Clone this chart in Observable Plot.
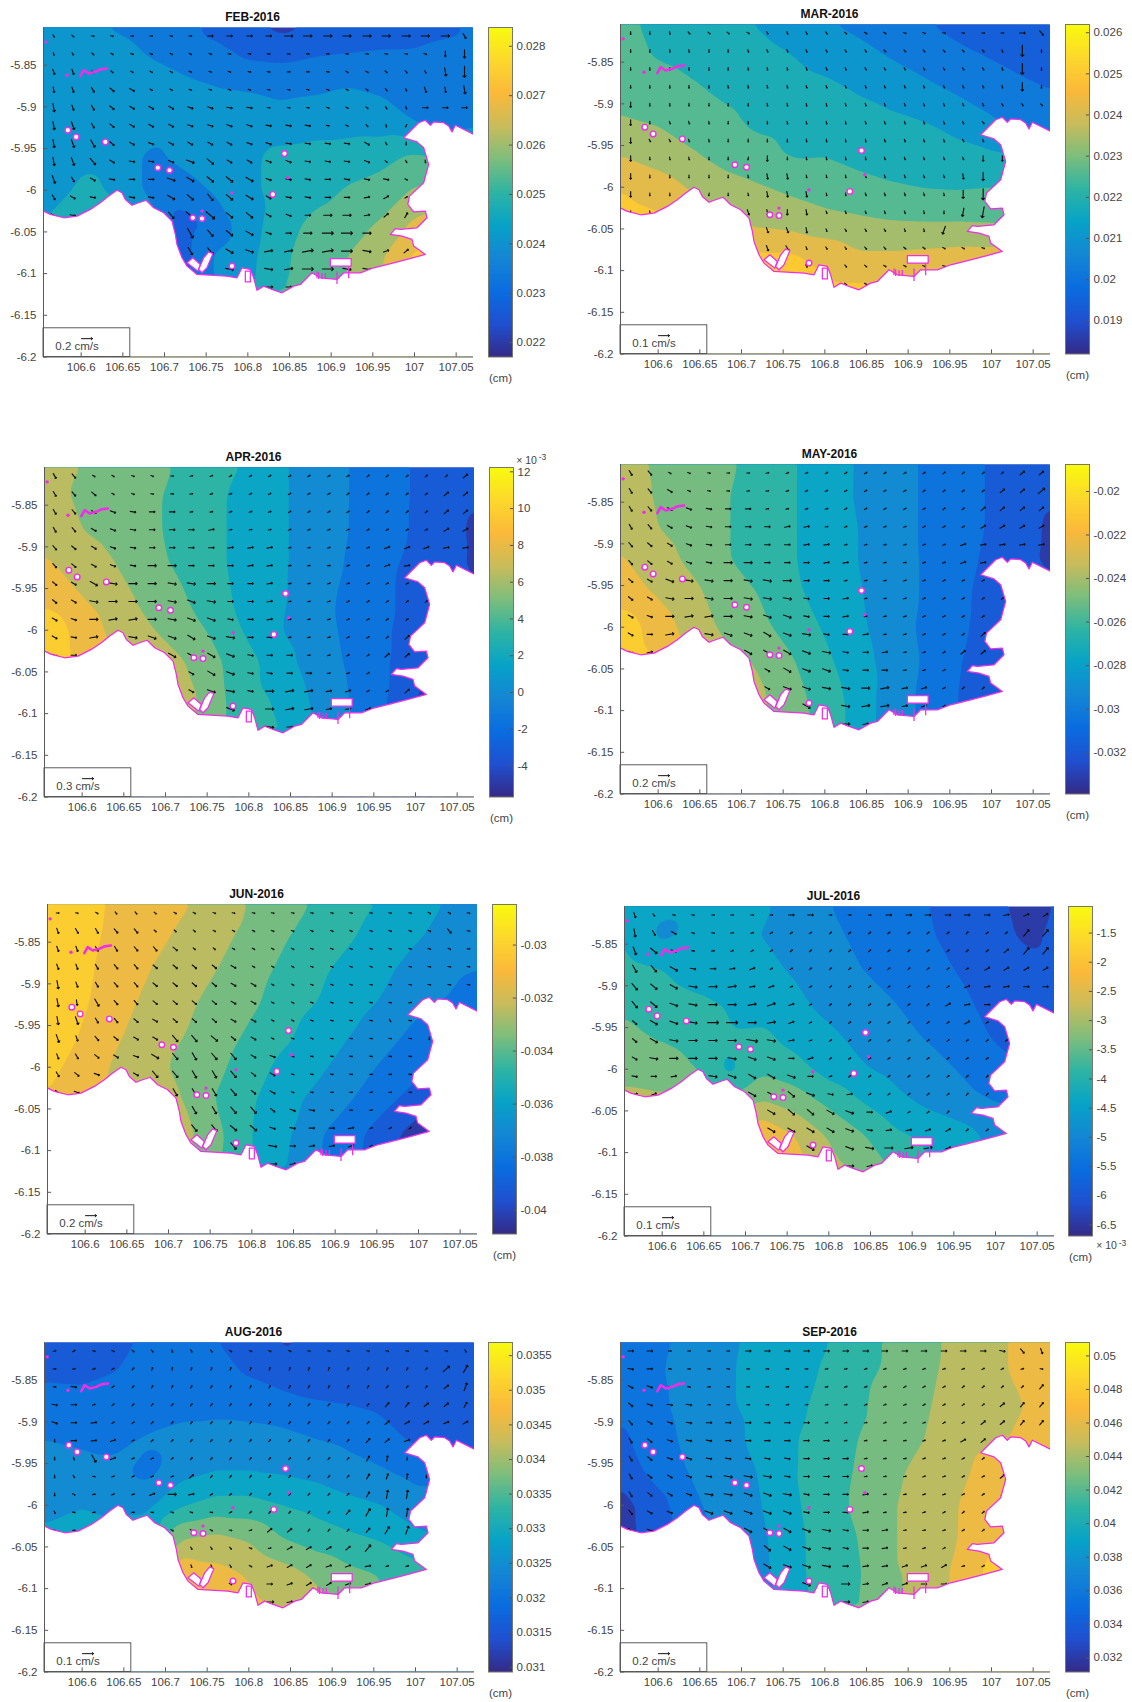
<!DOCTYPE html>
<html><head><meta charset="utf-8">
<script src="https://cdn.jsdelivr.net/npm/d3@7"></script>
<script src="https://cdn.jsdelivr.net/npm/@observablehq/plot@0.6"></script>
<style>html,body{margin:0;padding:0;background:#fff;overflow:hidden}#page{position:relative;width:1132px;height:1702px}</style>
</head><body><div id="page"></div>
<script>
const xTicks=[106.6,106.65,106.7,106.75,106.8,106.85,106.9,106.95,107,107.05];
const yTicks=[-5.85,-5.9,-5.95,-6,-6.05,-6.1,-6.15,-6.2];
const gridLon=[106.55,106.6,106.64,106.68,106.72,106.76,106.8,106.84,106.88,106.92,106.96,107,107.04,107.08];
const gridLat=[-5.8,-5.84,-5.88,-5.92,-5.96,-6,-6.04,-6.08,-6.13];
const arrowLon=[106.567,106.59,106.614,106.637,106.661,106.684,106.708,106.731,106.755,106.778,106.802,106.825,106.849,106.872,106.896,106.919,106.943,106.966,106.99,107.013,107.037,107.06];
const arrowLat=[-5.815,-5.8365,-5.858,-5.8795,-5.901,-5.9225,-5.944,-5.9655,-5.987,-6.0085,-6.03,-6.0515,-6.073,-6.0945,-6.116];
const waterSpans=[[0,0,21],[1,0,21],[2,0,21],[3,0,21],[4,0,21],[5,0,18],[6,0,18],[7,0,19],[8,0,19],[9,0,2],[9,4,18],[10,0,1],[10,6,18],[11,7,16],[12,7,18],[13,9,9],[13,11,16],[14,11,12]];
const coastLon=[106.555,106.563,106.579,106.595,106.611,106.623,106.633,106.643,106.649,106.653,106.661,106.669,106.678,106.687,106.699,106.709,106.713,106.715,106.721,106.727,106.739,106.759,106.775,106.787,106.793,106.803,106.807,106.811,106.819,106.829,106.841,106.855,106.863,106.877,106.887,106.907,106.915,106.935,106.951,106.975,106.991,107.013,106.999,106.997,106.985,106.971,106.977,106.983,107.003,107.015,107.013,106.999,106.992,106.994,107.011,107.017,107.011,107.003,106.987,107.005,107.013,107.019,107.023,107.035,107.041,107.045,107.049,107.071];
const coastLat=[-6.025,-6.029,-6.033,-6.031,-6.023,-6.015,-6.007,-6,-6.003,-6.011,-6.018,-6.015,-6.012,-6.021,-6.027,-6.037,-6.053,-6.065,-6.081,-6.091,-6.101,-6.102,-6.103,-6.105,-6.093,-6.095,-6.105,-6.12,-6.115,-6.119,-6.123,-6.115,-6.113,-6.099,-6.105,-6.107,-6.099,-6.099,-6.093,-6.087,-6.083,-6.077,-6.067,-6.059,-6.055,-6.053,-6.046,-6.047,-6.045,-6.033,-6.025,-6.026,-6.017,-6.007,-5.991,-5.969,-5.949,-5.942,-5.937,-5.919,-5.916,-5.922,-5.918,-5.919,-5.923,-5.93,-5.922,-5.933];
const featureId=[1,1,1,1,1,2,2,2,2,2,2,2,3,3,3,3,3,4,4,4,4,4];
const featureLon=[106.727,106.734,106.743,106.74,106.727,106.741,106.747,106.753,106.758,106.751,106.745,106.741,106.899,106.924,106.924,106.899,106.899,106.797,106.803,106.803,106.797,106.797];
const featureLat=[-6.087,-6.081,-6.089,-6.097,-6.087,-6.095,-6.081,-6.074,-6.076,-6.093,-6.099,-6.095,-6.082,-6.082,-6.091,-6.091,-6.082,-6.097,-6.097,-6.11,-6.11,-6.097];
const jettyLon=[106.883,106.885,106.889,106.893,106.907,106.921];
const jettyTop=[-6.098,-6.099,-6.1,-6.1,-6.098,-6.092];
const jettyBottom=[-6.106,-6.107,-6.107,-6.107,-6.113,-6.106];
const islandLon=[106.584,106.594,106.629,106.692,106.706,106.844,106.734,106.745,106.781,106.83];
const islandLat=[-5.928,-5.936,-5.942,-5.973,-5.976,-5.956,-6.033,-6.034,-6.091,-6.005];
const rockLon=[106.781,106.848,106.745,106.558,106.583];
const rockLat=[-6.003,-5.985,-6.025,-5.822,-5.862];
const reefLon=[106.599,106.603,106.609,106.617,106.623,106.631];
const reefLat=[-5.863,-5.856,-5.86,-5.858,-5.855,-5.854];
const parula=["#352a87","#2050d0","#0a6de0","#1486d4","#07a3c8","#2eb4a4","#7dbd7d","#c9bc5c","#fbb93a","#fcd82c","#f9fb0e"];

// Contour band position (0 = bottom of the colour bar's band ladder).
const febBands=[3.3,3.2,2.9,2.7,2.5,1.6,1,0.6,1,1.2,1.3,1.4,1.6,2.5,
3.5,3.4,3.3,3,2.7,2.4,1.9,1.8,2,2.1,2.2,2.2,2.5,2.7,
3.7,3.6,3.5,3.4,3.3,3.1,3,2.8,2.9,3.1,2.9,2.7,2.6,2.7,
3.7,3.7,3.6,3.6,3.3,3.4,3.4,3.4,3.6,3.6,3.5,3,2.4,2.8,
3.7,3.8,3.8,2.8,3.2,3.6,3.8,4.3,4.4,4.5,4.7,5.2,5,5,
3.3,4.2,3.9,2.8,2.6,3.1,3.8,4.3,4.6,5.1,5.4,6.1,6.5,6.5,
4,4.6,4.3,4,1.5,2.3,3.6,4.5,5.3,5.6,6.1,7.2,7.5,7.5,
4,4.5,4,3,1.5,3.1,3.7,4.8,5.5,6,6.9,8.2,8.5,8.5,
4,4,4,3,3,3,3.8,5,5.5,6,7,8,8,8];
const marBands=[5.3,4.7,4.4,4.2,3.9,3.5,3,2.7,2.4,2,1.6,1.4,1.2,1.1,
5.4,4.9,4.7,4.5,4.3,4,3.6,3.3,2.9,2.5,2.2,1.9,1.5,1.3,
5.8,5.4,5.1,4.8,4.6,4.4,4.2,3.9,3.5,3.2,2.8,2.5,2.2,1.9,
6.1,5.9,5.5,5.2,4.8,4.7,4.5,4.3,4.2,4,3.6,3.1,2.5,2.3,
7,6.5,6.1,5.6,5.3,4.9,4.95,4.7,4.5,4.4,4.3,4.1,3.9,3.8,
8,7.5,6.9,6.4,6.1,5.8,5.5,5.3,5.1,4.95,4.9,5,4.8,4.7,
8.5,8.2,7.5,7,6.7,6.5,6.3,6.15,6,5.95,5.95,5.9,5.8,5.7,
8.5,8.2,8,8,8.1,8.1,7.6,7.1,7.1,7.2,7.3,7.3,7.3,7.3,
8.5,8.5,8.5,8.5,8.5,8.5,8.4,8.4,8.3,8,8,8,8,8];
const aprBands=[7.5,7,6.6,6.2,5.9,5.4,4.9,4.1,3.6,3,2.5,1.9,1.5,1.2,
7.5,6.8,6.5,6.2,5.7,5.2,4.6,4.1,3.6,3,2.5,1.9,1.5,1.1,
7.8,7,6.6,6.2,5.7,5.2,4.6,4.1,3.6,3,2.4,1.9,1.4,0.6,
8.2,7.6,7,6.3,5.8,5.2,4.6,4.1,3.6,2.9,2.2,1.8,1.3,0.7,
8.7,8,7.4,6.7,6.1,5.3,4.7,4.1,3.5,2.7,2.2,1.7,1.3,1,
9.9,8.6,7.7,7.1,6.5,5.8,4.8,4,3.4,2.8,2.2,1.5,1,1,
9.9,8.7,8,7.8,7.1,6.2,5.3,4.4,3.5,2.9,2.2,1.3,0.7,0.7,
9,8.5,8,8,7.6,6.3,5.3,4.8,3.8,3,2.2,1,0.6,0.6,
9,8.5,8,8,7,6,5.5,5,4,3,2,1,1,1];
const mayBands=[7.6,6.8,6.5,6.2,5.7,5.1,4.6,3.9,3.4,2.9,2.4,1.9,1.5,1.2,
7.5,6.9,6.5,6.1,5.5,5.1,4.5,3.9,3.4,2.9,2.4,1.9,1.4,1.1,
7.7,7,6.6,6.1,5.5,5.1,4.5,4,3.4,2.9,2.4,1.9,1.3,0.7,
8.2,7.4,6.8,6.1,5.6,5.1,4.5,4,3.5,2.9,2.3,1.8,1.2,0.7,
8.5,7.9,7.3,6.5,6,5.2,4.7,4.1,3.5,2.9,2.2,1.7,1.3,1.2,
9.8,8.5,7.6,6.8,6.3,5.6,4.9,4.2,3.5,2.8,2.2,1.6,1.2,1,
9.8,8.9,8,7.3,6.9,6.1,5.2,4.4,3.6,2.9,2.1,1.3,0.8,0.8,
9,8.5,8.3,8,7.2,6.4,5.5,4.6,3.5,2.8,2,1.2,0.8,0.8,
9,8.5,8,8,7,6.5,5.7,4.5,3.5,2.8,2,1.2,1,1];
const junBands=[9.7,9.5,8.7,8.4,8.1,7.7,6.9,6.4,5.9,5.4,4.9,4.4,3.9,3.6,
9.7,9.4,8.6,8.3,7.8,7.3,6.7,6.1,5.6,5.1,4.5,4.1,3.6,3.4,
9.7,9.2,8.5,8,7.5,7,6.4,5.8,5.2,4.7,4.2,3.6,3.3,3,
9.7,9.1,8.4,7.7,7.2,6.7,6.2,5.5,5,4.4,3.9,3.3,2.9,2.2,
9.6,8.9,8.1,7.5,7,6.5,5.8,5.2,4.5,4,3.4,2.7,2.3,2,
9.4,8.5,7.8,7.3,6.7,6.2,5.4,4.7,4.2,3.5,2.8,2.3,2,2,
9,8.3,7.7,7.2,7,5.9,5.1,4.3,3.7,3,2.3,1.4,1,1,
8.8,8,7.5,7.2,7.3,6.2,5,4.2,3.1,2.4,1.3,0.6,0.5,0.5,
8.5,8,7.5,7,7,6,5,4,3,2.3,1.3,1,1,1];
const julBands=[4.8,4.2,4.2,4.1,4.1,3.8,3,2.6,2.4,2,1.4,1.2,0.6,1.2,
5.1,3.8,4.2,4,4,3.7,3.3,2.7,2.5,2.1,1.6,1.3,0.8,1.3,
5.4,5,4.5,4.3,4.2,3.9,3.5,3,2.6,2.3,1.9,1.4,1.3,1.3,
5.9,5.5,5.2,4.9,4.5,4.2,3.7,3.4,3,2.6,2.2,1.6,1.2,1.2,
6.2,5.9,5.6,5.1,5.2,4.6,4.2,3.7,3.3,2.9,2.4,1.9,1.6,1.5,
6.6,6.5,6,4.7,5.8,5.4,4.6,4.1,3.7,3.4,2.9,2.3,2,2,
7.4,7.2,7.5,6.3,7.1,6.6,5.8,5,4.3,3.8,3.4,3,3,3,
7.5,7.5,7.5,7,9,8,6.9,6.1,5.2,4.8,4.4,3.7,3.3,3.3,
7.5,7.5,7.5,7.5,9,8.5,7.5,7,6,5,4.5,3.7,3.3,3.3];
const augBands=[1.5,1.3,1.6,2.2,2.2,2,1.5,0.8,1.2,1.2,1.2,1.2,1.2,1.2,
1.7,1.6,2,2.3,2.4,2.3,1.9,1.5,1.5,1.5,1.4,1.4,1.3,1.3,
2.7,2.6,2.4,2.5,2.7,2.7,2.6,2.4,2.1,2,1.8,1.5,1.4,1.4,
3,2.9,2.8,3.1,3.3,3.4,3.4,3.3,3,2.8,2.4,1.8,1.6,1.6,
3.2,3.2,3.2,2.7,3.7,4,4,3.9,3.7,3.3,3.1,2.7,2.7,2.7,
3.2,3.9,3.8,3.8,4.9,5.4,5.4,5,4.7,4.3,4,3.4,3,3,
4.5,5,4.3,4.5,7,7.3,6.9,6,5.5,5.2,4.9,4.3,4,4,
5,5,5,6,8.9,8.3,7.9,7.4,6.8,6.2,5.9,5.4,5,5,
5,5,5,6,9,8.5,8.3,8,7.5,7,6,5.5,5,5];
const sepBands=[2.3,2.7,3.4,3.8,4.2,4.5,4.9,5.5,6.2,6.7,7.3,7.8,8.2,8.5,
2.4,2.9,3.4,3.9,4.2,4.6,5.1,5.7,6.2,6.8,7.3,7.8,8.2,8.4,
2.3,2.8,3.4,3.9,4.2,4.7,5.3,5.8,6.5,6.9,7.4,7.8,8,8.3,
1.7,2.6,3.3,3.7,4.2,4.9,5.4,6,6.5,7,7.5,7.9,8.1,8.3,
1.2,2.4,3.1,3.6,4,4.9,5.5,6.1,6.8,7.3,7.7,8.5,8.2,8.2,
0.5,1.6,2.8,3.4,3.9,4.8,5.5,6.2,6.9,7.5,8,8.5,8.3,8.3,
0.5,1.5,2.5,3.2,3.7,4.7,5.4,6,6.9,7.5,8,8.9,8.5,8.5,
0.5,1.5,2.5,3,3.6,4.7,5.4,5.9,6.9,7.2,8.3,9.3,9,9,
1,2,2.5,3,3.6,4.5,5.3,6,6.9,7.2,8,9,9,9];

// Arrows, one per water node in waterSpans order: hundreds = speed class, rest = heading in tens of degrees.
const febArrows=[115,113,110,110,109,109,110,109,209,209,209,209,309,309,309,309,309,309,309,309,309,215,
116,115,113,112,111,111,112,112,111,110,110,109,109,109,109,109,110,110,110,111,218,318,
216,216,114,113,112,112,112,111,111,111,110,110,109,109,110,112,112,113,114,115,317,418,
217,216,215,213,212,112,112,111,111,111,111,110,110,110,111,112,113,114,116,216,217,317,
317,216,215,213,212,212,212,211,211,210,210,110,110,110,111,112,113,115,116,209,209,209,
317,316,215,213,212,212,212,211,211,211,211,210,210,210,110,112,114,117,121,
317,316,315,213,212,211,212,212,212,212,211,211,210,210,210,210,212,115,118,
317,316,314,212,210,210,211,311,313,212,212,211,211,210,210,210,211,113,115,117,
316,215,212,210,209,209,311,312,313,313,312,211,210,210,209,210,210,210,112,117,
215,212,210,210,210,312,313,314,313,312,212,210,210,209,209,208,206,106,
212,210,314,413,413,313,313,212,211,209,309,309,208,205,203,
415,314,313,312,211,209,309,409,409,309,
315,314,312,311,308,308,408,408,409,310,207,205,
310,310,308,409,409,310,310,
309,209];
const marArrows=[118,118,117,114,113,113,112,115,116,115,114,113,112,112,111,111,110,110,109,109,209,214,
118,118,118,117,118,118,116,116,116,116,115,115,115,114,114,114,114,114,114,116,418,118,
118,118,118,118,118,118,117,117,117,116,116,116,115,115,115,115,115,115,115,116,418,118,
118,118,118,118,118,117,117,117,117,116,116,116,116,116,116,116,116,116,116,117,318,118,
218,118,118,118,118,118,118,117,117,117,117,116,116,116,116,116,116,116,116,115,114,113,
218,118,116,116,117,118,118,118,117,117,117,117,116,116,116,116,116,116,114,
218,115,115,116,117,118,118,118,118,117,117,117,117,116,116,116,116,115,116,
218,118,117,117,118,118,119,218,118,117,117,117,117,116,116,116,116,116,218,218,
218,118,118,118,118,118,117,217,217,117,117,117,116,116,116,116,116,217,318,218,
218,118,118,119,118,117,217,217,217,117,117,116,116,116,116,117,318,418,
118,117,216,217,218,217,116,116,116,116,116,117,118,319,419,
216,216,217,116,115,115,115,116,117,320,
216,215,116,115,115,114,114,113,113,112,112,111,
115,114,113,112,112,111,111,
113,112];
const aprArrows=[215,214,112,112,111,111,109,108,107,106,106,106,106,106,106,106,105,105,105,105,105,205,
215,214,213,112,111,110,109,108,107,107,106,106,106,106,106,105,105,105,105,105,205,205,
215,214,212,211,210,209,209,108,108,107,107,107,106,106,106,106,105,105,105,105,205,205,
215,214,212,211,210,209,209,209,208,108,108,108,107,107,107,107,106,106,106,106,206,206,
214,213,212,211,210,209,209,209,209,208,208,208,108,108,107,107,107,207,207,207,208,208,
214,213,212,211,210,309,309,209,209,209,208,208,108,108,108,107,107,207,208,
213,212,312,310,309,309,310,310,309,209,209,208,108,108,107,107,106,106,106,
213,212,310,309,309,309,310,311,310,209,209,208,108,108,107,106,106,105,105,105,
212,211,309,308,308,309,310,311,311,210,209,208,108,108,107,106,106,105,105,105,
212,210,308,310,311,311,312,311,310,209,209,108,108,107,106,106,105,205,
211,209,312,312,312,311,210,209,209,108,107,106,105,205,205,
212,312,311,210,210,209,209,108,107,106,
212,311,310,210,309,308,308,208,207,106,106,205,
311,309,308,308,208,208,207,
310,209];
const mayArrows=[215,214,112,111,110,109,109,108,107,107,106,106,106,106,106,106,105,105,105,105,205,205,
215,214,212,111,110,109,108,108,107,106,106,106,106,106,106,105,105,105,105,205,205,305,
215,214,212,211,210,209,209,108,108,107,107,106,106,106,106,106,105,105,205,205,205,205,
215,214,212,211,210,209,209,209,208,208,108,107,107,107,107,106,106,106,206,206,206,206,
214,213,212,211,210,209,209,209,209,208,208,108,108,108,107,107,107,207,208,208,208,208,
214,213,212,211,210,309,309,209,209,209,208,208,108,108,108,107,107,207,208,
213,212,311,310,310,309,310,310,309,209,209,108,108,108,107,107,106,106,106,
213,212,310,309,310,309,310,310,310,210,209,208,108,108,107,106,106,106,105,105,
212,211,309,308,308,309,310,311,311,210,209,208,108,108,107,106,106,105,105,105,
212,209,308,310,311,311,312,311,310,210,209,208,108,107,106,106,105,205,
211,208,312,312,312,311,310,210,209,208,108,107,106,205,205,
212,312,311,311,210,209,209,108,107,106,
212,311,311,310,310,309,308,208,207,106,105,105,
312,310,308,308,208,207,106,
309,208];
const junArrows=[109,110,112,114,114,113,112,112,111,110,110,110,110,110,110,110,110,110,110,112,112,110,
216,215,215,214,214,113,113,113,112,112,112,111,111,111,111,111,111,111,111,111,214,110,
216,216,215,215,214,214,213,113,113,112,112,112,112,111,111,111,111,111,111,111,112,109,
216,216,215,214,214,213,213,213,213,212,112,112,112,111,111,111,111,110,110,110,110,110,
317,216,215,214,214,213,213,213,213,212,212,112,112,111,111,111,110,110,110,110,110,110,
317,217,315,214,214,213,213,213,213,212,212,112,112,111,111,110,110,110,108,
317,316,215,214,213,212,213,213,213,212,212,112,112,111,110,110,110,115,110,
316,216,214,213,212,212,314,314,313,213,212,112,111,111,110,110,110,110,110,118,
216,215,213,212,211,312,314,315,314,314,212,211,111,110,110,110,110,110,110,118,
215,213,211,212,314,314,315,315,314,213,212,111,110,110,109,109,109,110,
213,211,315,315,315,314,213,212,111,110,109,109,108,109,110,
315,315,314,314,213,211,210,110,109,108,
314,314,313,313,211,210,209,209,208,107,106,105,
314,310,209,208,208,207,107,
309,208];
const julArrows=[216,114,110,110,109,109,109,109,209,209,109,109,109,209,209,209,209,209,209,208,207,206,
317,215,212,111,110,108,107,106,105,106,105,105,105,105,105,105,105,104,105,105,304,304,
316,313,211,110,108,107,106,106,105,105,105,105,105,105,105,105,105,105,105,205,304,304,
315,314,312,210,209,208,207,106,106,105,105,105,105,105,105,105,105,106,206,206,206,206,
314,313,312,310,309,308,208,207,107,106,105,105,105,105,105,105,106,207,208,208,209,209,
314,313,311,310,309,309,308,307,207,106,105,105,105,105,105,105,206,208,209,
213,312,311,310,409,409,309,308,207,106,105,105,105,105,105,105,105,206,106,
213,312,310,309,309,309,410,310,208,107,105,105,105,105,105,105,105,105,105,105,
212,310,309,309,309,310,311,311,209,207,105,105,105,105,105,105,105,105,105,104,
210,209,208,310,311,312,312,311,209,107,105,105,105,105,105,105,105,104,
208,207,312,312,313,311,210,208,106,105,105,105,105,104,104,
312,313,313,312,311,209,207,106,105,104,
312,312,312,312,311,210,208,208,207,206,105,105,
312,311,310,309,308,308,207,
309,208];
const augArrows=[107,106,110,111,113,114,116,115,114,112,111,111,111,110,110,110,110,110,110,110,110,115,
109,108,107,106,104,102,101,102,102,102,102,102,102,102,102,103,103,103,103,104,305,303,
110,210,107,105,104,103,103,103,103,103,103,103,103,103,103,103,103,104,104,104,205,302,
210,209,107,105,104,104,104,104,104,104,104,104,104,104,104,104,104,204,204,205,205,203,
211,209,208,106,105,104,104,104,104,104,104,104,104,104,104,104,104,205,206,206,207,206,
118,209,208,207,106,105,104,104,104,104,104,104,104,104,104,104,204,205,207,
118,116,315,207,107,106,105,104,104,104,104,104,104,104,104,104,203,201,118,
118,115,110,107,106,106,107,205,104,104,104,104,104,104,104,104,203,202,201,118,
118,112,108,106,107,207,309,208,105,105,104,104,104,104,104,104,203,301,301,218,
115,110,108,109,110,111,111,110,106,105,104,104,104,104,204,303,301,301,
112,109,112,113,112,110,107,205,205,104,104,104,204,303,302,
115,115,114,111,108,206,206,206,205,304,
116,116,115,112,207,206,206,207,207,208,107,107,
112,209,207,206,206,207,208,
309,208];
const sepArrows=[209,209,109,109,109,109,209,209,209,209,209,209,209,209,209,209,209,209,209,210,214,216,
210,209,109,109,109,110,109,109,109,109,108,108,107,107,107,107,107,107,106,106,107,110,
212,211,110,110,109,109,109,109,108,108,108,107,107,107,106,106,106,105,105,105,105,204,
213,211,210,210,109,109,109,109,108,108,108,108,107,107,107,106,106,105,105,205,204,204,
214,212,211,210,209,209,209,209,209,209,108,108,108,107,107,107,106,106,205,205,204,204,
215,213,211,210,210,209,209,209,209,209,209,108,108,108,108,107,107,206,205,
215,213,211,211,210,210,210,210,210,209,209,209,108,108,108,107,107,106,105,
215,213,212,211,210,310,310,310,210,209,209,209,108,108,108,107,107,106,106,205,
215,213,212,211,310,310,311,311,310,210,209,209,208,108,108,107,107,106,105,105,
214,212,211,311,311,311,311,311,210,209,209,208,108,108,107,106,105,105,
213,211,312,312,312,311,310,210,209,208,108,108,107,106,105,
313,312,311,310,210,209,208,108,107,106,
312,311,311,310,209,208,208,207,207,206,107,106,
311,309,208,207,207,209,209,
309,208];

const panels=[
{title:"FEB-2016",bands:febBands,arrows:febArrows,n:10,lim:[0.02171,0.02838],ticks:[0.022,0.023,0.024,0.025,0.026,0.027,0.028],key:"0.2 cm/s",ax:[43.3,26.7],bar:487.7},
{title:"MAR-2016",bands:marBands,arrows:marArrows,n:10,lim:[0.01819,0.0262],ticks:[0.019,0.02,0.021,0.022,0.023,0.024,0.025,0.026],key:"0.1 cm/s",ax:[619.7,24.3],bar:1064.6},
{title:"APR-2016",bands:aprBands,arrows:aprArrows,n:11,lim:[-5.68,12.235],ticks:[-4,-2,0,2,4,6,8,10,12],key:"0.3 cm/s",ax:[44.2,466.7],bar:488.8,exp:"top"},
{title:"MAY-2016",bands:mayBands,arrows:mayArrows,n:11,lim:[-0.0339,-0.01876],ticks:[-0.032,-0.03,-0.028,-0.026,-0.024,-0.022,-0.02],key:"0.2 cm/s",ax:[620.4,464],bar:1065.3},
{title:"JUN-2016",bands:junBands,arrows:junArrows,n:11,lim:[-0.0409,-0.02847],ticks:[-0.04,-0.038,-0.036,-0.034,-0.032,-0.03],key:"0.2 cm/s",ax:[47.4,904],bar:491.5},
{title:"JUL-2016",bands:julBands,arrows:julArrows,n:11,lim:[-6.69,-1.045],ticks:[-6.5,-6,-5.5,-5,-4.5,-4,-3.5,-3,-2.5,-2,-1.5],key:"0.1 cm/s",ax:[623.5,906],bar:1068,exp:"bottom"},
{title:"AUG-2016",bands:augBands,arrows:augArrows,n:11,lim:[0.03093,0.03569],ticks:[0.031,0.0315,0.032,0.0325,0.033,0.0335,0.034,0.0345,0.035,0.0355],key:"0.1 cm/s",ax:[43.6,1342],bar:487.7},
{title:"SEP-2016",bands:sepBands,arrows:sepArrows,n:11,lim:[0.03115,0.0508],ticks:[0.032,0.034,0.036,0.038,0.04,0.042,0.044,0.046,0.048,0.05],key:"0.2 cm/s",ax:[619.7,1342],bar:1064.6}
];

const W=430,H=329.5,xDom=[106.5548,107.0708],yDom=[-6.2,-5.8048];
const ink="#444444",axisInk="#5a5a5a",magenta="#f02ee6";
const parulaFn=d3.piecewise(d3.interpolateRgb,parula);
const font={fontFamily:"'Liberation Sans',Arial,sans-serif",fontSize:"11.5px",color:ink,background:"transparent",overflow:"visible"};
const waterNodes=waterSpans.flatMap(([r,a,b])=>d3.range(a,b+1).map(c=>({lon:arrowLon[c],lat:arrowLat[r]})));
const coast=coastLon.map((lon,i)=>({lon,lat:coastLat[i]}));
const land=[...coast,{lon:107.071,lat:-6.2},{lon:106.555,lat:-6.2},coast[0]];
const features=featureLon.map((lon,i)=>({id:featureId[i],lon,lat:featureLat[i]}));
const jetties=jettyLon.map((lon,i)=>({lon,top:jettyTop[i],bottom:jettyBottom[i]}));
const islands=islandLon.map((lon,i)=>({lon,lat:islandLat[i]}));
const rocks=rockLon.map((lon,i)=>({lon,lat:rockLat[i]}));
const reef=reefLon.map((lon,i)=>({lon,lat:reefLat[i]}));
const page=document.getElementById("page");

for(const p of panels){
  const step=(p.lim[1]-p.lim[0])/p.n;
  const thresholds=d3.range(p.n).map(k=>p.lim[0]+k*step);
  const cells=p.bands.map((b,i)=>({lon:gridLon[i%14],lat:gridLat[Math.floor(i/14)],v:p.lim[0]+b*step}));
  const arrows=p.arrows.map((a,i)=>({...waterNodes[i],speed:Math.floor(a/100),heading:(a%100)*10}));
  const ml=44,mt=22,mb=26;
  const chart=Plot.plot({
    width:W+ml+2,height:H+mt+mb,marginLeft:ml,marginRight:2,marginTop:mt,marginBottom:mb,
    style:{...font,position:"absolute",left:(p.ax[0]-ml)+"px",top:(p.ax[1]-mt)+"px"},
    x:{domain:xDom,axis:null},y:{domain:yDom,axis:null},
    color:{type:"linear",domain:[p.lim[0]-step/2,p.lim[1]-step/2],interpolate:parulaFn},
    length:{domain:[0,4],range:[0,11]},
    marks:[
      Plot.contour(cells,{x:"lon",y:"lat",fill:"v",thresholds,interpolate:"barycentric",blur:2,clip:true}),
      Plot.vector(arrows,{x:"lon",y:"lat",length:"speed",rotate:"heading",anchor:"middle",stroke:"#111",strokeWidth:1.15,r:2.5,clip:true}),
      Plot.line(land,{x:"lon",y:"lat",fill:"white",stroke:"none",curve:"linear",clip:true}),
      Plot.line(coast,{x:"lon",y:"lat",stroke:magenta,strokeWidth:1.25,clip:true}),
      Plot.line(features,{x:"lon",y:"lat",z:"id",fill:"white",stroke:magenta,strokeWidth:1.25}),
      Plot.ruleX(jetties,{x:"lon",y1:"top",y2:"bottom",stroke:magenta,strokeWidth:1.25}),
      Plot.dot(islands,{x:"lon",y:"lat",r:2.8,fill:"white",stroke:magenta,strokeWidth:1.4}),
      Plot.dot(rocks,{x:"lon",y:"lat",r:1.7,fill:magenta}),
      Plot.line(reef,{x:"lon",y:"lat",stroke:magenta,strokeWidth:2.6}),
      Plot.rect([{}],{x1:()=>xDom[0],x2:()=>106.659,y1:()=>-6.2,y2:()=>-6.1656,fill:"white",stroke:"#333",strokeWidth:0.8}),
      Plot.vector([{}],{x:()=>106.607,y:()=>-6.178,rotate:90,length:11,anchor:"middle",stroke:"#111",strokeWidth:1,r:2}),
      Plot.text([p.key],{x:()=>106.569,y:()=>-6.187,text:d=>d,textAnchor:"start",fill:ink}),
      Plot.ruleX([xDom[0]],{x:d=>d,stroke:axisInk}),
      Plot.ruleY([yDom[0]],{y:d=>d,stroke:axisInk}),
      Plot.ruleX(xTicks,{x:d=>d,y1:()=>-6.2,y2:()=>-6.195,stroke:axisInk}),
      Plot.ruleY(yTicks,{y:d=>d,x1:()=>xDom[0],x2:()=>xDom[0]+0.005,stroke:axisInk}),
      Plot.axisX({ticks:xTicks,tickFormat:String,tickSize:0,tickPadding:6,fill:ink,label:null}),
      Plot.axisY({ticks:yTicks,tickFormat:String,tickSize:0,tickPadding:7,fill:ink,label:null}),
      Plot.text([p.title],{frameAnchor:"top",dy:-15,dx:-6,fontWeight:"bold",fontSize:12,fill:"#111",text:d=>d})
    ]
  });
  page.appendChild(chart);

  const rampValues=d3.range(256).map(i=>p.lim[1]-(i+0.5)*(p.lim[1]-p.lim[0])/256);
  const bar=Plot.plot({
    width:64,height:H+mt+mb,marginLeft:0,marginRight:40,marginTop:mt,marginBottom:mb,
    style:{...font,position:"absolute",left:p.bar+"px",top:(p.ax[1]-mt)+"px"},
    x:{domain:[0,1],axis:null},y:{domain:p.lim,axis:null},
    color:{type:"linear",domain:p.lim,interpolate:parulaFn},
    marks:[
      Plot.raster(rampValues,{width:1,height:256,x1:0,x2:1,y1:p.lim[1],y2:p.lim[0],fill:d=>d}),
      Plot.frame({stroke:"#77776a",strokeWidth:1}),
      Plot.ruleY(p.ticks,{y:d=>d,x1:()=>0.87,x2:()=>1,stroke:"#555"}),
      Plot.axisY({anchor:"right",ticks:p.ticks,tickFormat:String,tickSize:0,tickPadding:4,fill:ink,label:null}),
      Plot.text(["(cm)"],{frameAnchor:"bottom",dy:25,text:d=>d,fill:ink}),
      ...(p.exp==="top"?[Plot.text(["× 10"],{frameAnchor:"top",dx:25,dy:-11,text:d=>d,fill:ink,fontSize:10.5}),Plot.text(["-3"],{frameAnchor:"top",dx:41,dy:-14,text:d=>d,fill:ink,fontSize:8.5})]:[]),
      ...(p.exp==="bottom"?[Plot.text(["× 10"],{frameAnchor:"bottom",dx:26,dy:13,text:d=>d,fill:ink,fontSize:10.5}),Plot.text(["-3"],{frameAnchor:"bottom",dx:42,dy:10,text:d=>d,fill:ink,fontSize:8.5})]:[])
    ]
  });
  page.appendChild(bar);
}
</script></body></html>
